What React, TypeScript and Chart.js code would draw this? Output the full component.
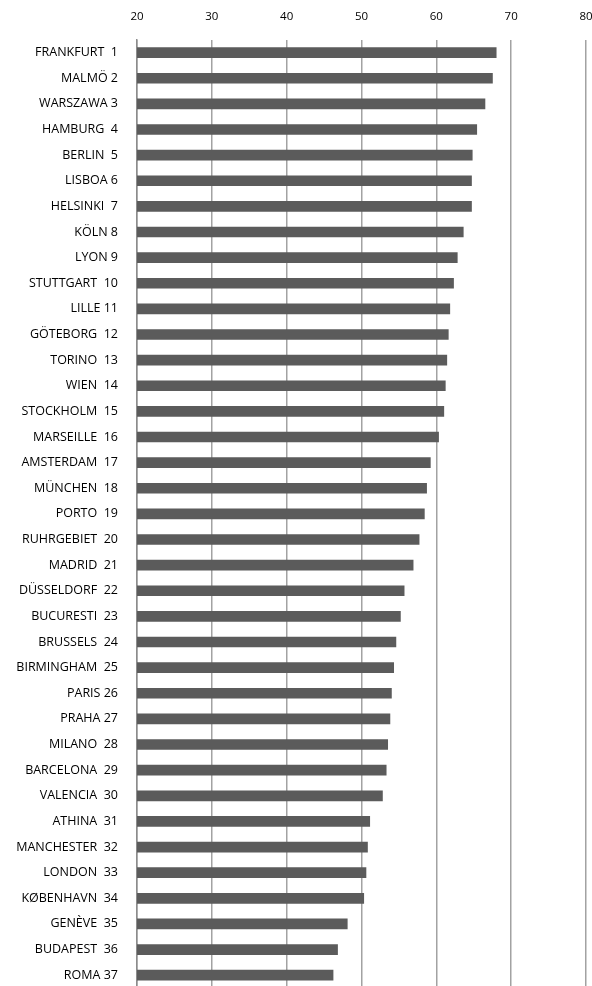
import React, { useEffect, useRef } from "react";
import { Chart, registerables } from "chart.js";

Chart.register(...registerables);

const cities: string[] = [
  "FRANKFURT  1", "MALMÖ 2", "WARSZAWA 3", "HAMBURG  4", "BERLIN  5", "LISBOA 6",
  "HELSINKI  7", "KÖLN 8", "LYON 9", "STUTTGART  10", "LILLE 11", "GÖTEBORG  12",
  "TORINO  13", "WIEN  14", "STOCKHOLM  15", "MARSEILLE  16", "AMSTERDAM  17",
  "MÜNCHEN  18", "PORTO  19", "RUHRGEBIET  20", "MADRID  21", "DÜSSELDORF  22",
  "BUCURESTI  23", "BRUSSELS  24", "BIRMINGHAM  25", "PARIS 26", "PRAHA 27",
  "MILANO  28", "BARCELONA  29", "VALENCIA  30", "ATHINA  31", "MANCHESTER  32",
  "LONDON  33", "KØBENHAVN  34", "GENÈVE  35", "BUDAPEST  36", "ROMA 37",
];

const scores: number[] = [
  68.0, 67.5, 66.5, 65.4, 64.8, 64.7, 64.7, 63.6, 62.8, 62.3, 61.8, 61.6,
  61.4, 61.2, 61.0, 60.3, 59.2, 58.7, 58.4, 57.7, 56.9, 55.7, 55.2, 54.6,
  54.3, 54.0, 53.8, 53.5, 53.3, 52.8, 51.1, 50.8, 50.6, 50.3, 48.1, 46.8, 46.2,
];

const axisMin = 20;
const axisMax = 80;
const axisStep = 10;

export default function App() {
  const ref = useRef<HTMLCanvasElement | null>(null);

  useEffect(() => {
    if (!ref.current) return;
    const chart = new Chart(ref.current, {
      type: "bar",
      data: {
        labels: cities,
        datasets: [
          {
            data: scores,
            backgroundColor: "#5b5b5b",
            borderWidth: 0,
            barThickness: 10,
          },
        ],
      },
      options: {
        indexAxis: "y",
        animation: false,
        responsive: false,
        maintainAspectRatio: false,
        layout: { padding: { top: 9, right: 6, bottom: 2, left: 0 } },
        plugins: { legend: { display: false }, tooltip: { enabled: false } },
        scales: {
          x: {
            position: "top",
            min: axisMin,
            max: axisMax,
            ticks: {
              stepSize: axisStep,
              padding: 16,
              color: "#000",
              font: { family: "Open Sans", size: 11.5 },
            },
            grid: { color: "#a2a2a2", lineWidth: 1.5, drawTicks: false },
            border: { display: false },
            afterFit: (s: any) => {
              s.paddingRight = 0;
              s.paddingLeft = 0;
            },
          },
          y: {
            ticks: {
              padding: 19,
              color: "#000",
              autoSkip: false,
              font: { family: "Open Sans", size: 12.5 },
            },
            grid: { display: false, drawTicks: false },
            border: { display: true, color: "#8c8c8c", width: 1.5 },
            afterFit: (s: any) => {
              s.width = 137;
              s.paddingTop = 0;
              s.paddingBottom = 0;
            },
          },
        },
      },
    });
    return () => chart.destroy();
  }, []);

  return (
    <div style={{ position: "fixed", left: 0, top: -15, width: 592, height: 1005 }}>
      <canvas ref={ref} width={592} height={1005} style={{ width: 592, height: 1005 }} />
    </div>
  );
}
